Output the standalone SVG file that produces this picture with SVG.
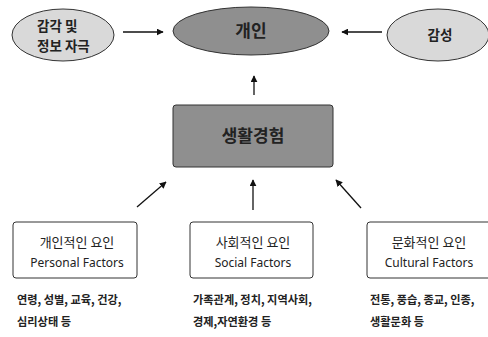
<svg xmlns="http://www.w3.org/2000/svg" width="488" height="337" viewBox="0 0 488 337">
<style>
text{font-family:"Noto Sans CJK KR","Noto Sans",sans-serif;fill:#222}
.el{fill:#d9d9d9;stroke:#333;stroke-width:1}
.main{fill:#8f8f8f;stroke:#333;stroke-width:1}
.box{fill:#fff;stroke:#333;stroke-width:1}
.c{stroke:#111;stroke-width:1.3;fill:none;marker-end:url(#ah)}
.t{font-size:13.5px;font-weight:bold}
.k{font-size:13px;text-anchor:middle}
.e{font-size:12px;text-anchor:middle;font-family:"Noto Sans",sans-serif}
.s{font-size:11.2px;font-weight:bold}
</style>
<defs>
<marker id="ah" viewBox="0 0 10 10" refX="9" refY="5" markerWidth="7" markerHeight="7" orient="auto" markerUnits="userSpaceOnUse">
<path d="M0,0 L10,5 L0,10 z" fill="#111"/>
</marker>
</defs>
<g id="sense">
<ellipse class="el" cx="63" cy="35" rx="51" ry="26"/>
<text class="t" x="37" y="31">감각 및</text>
<text class="t" x="37" y="51">정보 자극</text>
</g>
<g id="person">
<ellipse class="main" cx="251" cy="31" rx="78" ry="24"/>
<text x="251" y="37" style="font-size:17px;font-weight:bold;text-anchor:middle">개인</text>
</g>
<g id="emotion">
<ellipse class="el" cx="438" cy="35" rx="51" ry="26"/>
<text class="t" x="440" y="40" text-anchor="middle">감성</text>
</g>
<g id="experience">
<rect class="main" x="173" y="105" width="160" height="62" rx="3"/>
<text x="253" y="142" style="font-size:17px;font-weight:bold;text-anchor:middle">생활경험</text>
</g>
<g id="personal">
<rect class="box" x="13" y="222" width="124" height="56" rx="3"/>
<text class="k" x="77" y="247">개인적인 요인</text>
<text class="e" x="77" y="267">Personal Factors</text>
<text class="s" x="17" y="304">연령, 성별, 교육, 건강,</text>
<text class="s" x="17" y="326">심리상태 등</text>
</g>
<g id="social">
<rect class="box" x="190" y="222" width="123" height="56" rx="3"/>
<text class="k" x="253" y="247">사회적인 요인</text>
<text class="e" x="253" y="267">Social Factors</text>
<text class="s" x="193" y="304">가족관계, 정치, 지역사회,</text>
<text class="s" x="193" y="326">경제,자연환경 등</text>
</g>
<g id="cultural">
<rect class="box" x="367" y="222" width="124" height="56" rx="3"/>
<text class="k" x="429" y="247">문화적인 요인</text>
<text class="e" x="429" y="267">Cultural Factors</text>
<text class="s" x="370" y="304">전통, 풍습, 종교, 인종,</text>
<text class="s" x="370" y="326">생활문화 등</text>
</g>
<g id="connectors">
<line class="c" x1="123" y1="32" x2="163" y2="32"/>
<line class="c" x1="382" y1="32" x2="342" y2="32"/>
<line class="c" x1="254" y1="95" x2="254" y2="76"/>
<line class="c" x1="137" y1="207" x2="166" y2="182"/>
<line class="c" x1="253" y1="210" x2="253" y2="180"/>
<line class="c" x1="361" y1="208" x2="336" y2="180"/>
</g>
</svg>
